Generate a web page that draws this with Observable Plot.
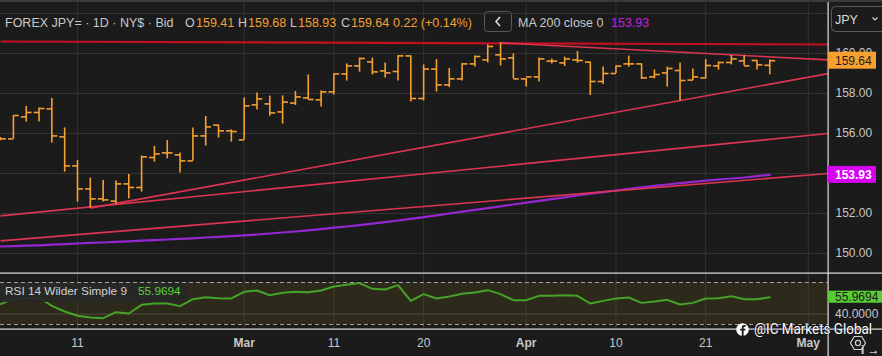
<!DOCTYPE html>
<html><head><meta charset="utf-8">
<script src="https://cdn.jsdelivr.net/npm/d3@7"></script>
<script src="https://cdn.jsdelivr.net/npm/@observablehq/plot@0.6"></script>
<style>
html,body{margin:0;padding:0;background:#1b1b1b;}
#wrap{position:relative;width:882px;height:356px;overflow:hidden;background:#1b1b1b;font-family:"Liberation Sans",Arial,sans-serif;}
#wrap svg{position:absolute;left:0;overflow:visible;}
[aria-label="ohlc"]{shape-rendering:crispEdges;}
</style></head><body><div id="wrap"></div><script>
// ---- data ----
const calendar = [
 "2026-02-03","2026-02-04","2026-02-05","2026-02-06","2026-02-09","2026-02-10","2026-02-11","2026-02-12","2026-02-13",
 "2026-02-16","2026-02-17","2026-02-18","2026-02-19","2026-02-20","2026-02-23","2026-02-24","2026-02-25","2026-02-26","2026-02-27",
 "2026-03-02","2026-03-03","2026-03-04","2026-03-05","2026-03-06","2026-03-09","2026-03-10","2026-03-11","2026-03-12","2026-03-13",
 "2026-03-16","2026-03-17","2026-03-18","2026-03-19","2026-03-20","2026-03-23","2026-03-24","2026-03-25","2026-03-26","2026-03-27",
 "2026-03-30","2026-03-31","2026-04-01","2026-04-02","2026-04-03","2026-04-06","2026-04-07","2026-04-08","2026-04-09","2026-04-10",
 "2026-04-13","2026-04-14","2026-04-15","2026-04-16","2026-04-17","2026-04-20","2026-04-21","2026-04-22","2026-04-23","2026-04-24",
 "2026-04-27","2026-04-28","2026-04-29","2026-04-30","2026-05-01"];
const open  = [155.70,155.73,156.83,157.05,157.23,155.83,154.38,153.23,152.73,152.62,153.48,153.30,154.80,155.03,154.93,154.63,155.88,156.42,156.13,155.68,157.43,157.48,157.08,157.52,157.78,157.68,158.08,158.98,159.38,159.58,159.13,159.10,159.88,157.75,159.22,158.43,158.73,159.48,159.68,159.93,159.78,158.73,158.83,159.62,159.53,159.68,159.57,158.60,159.00,159.48,159.48,158.83,159.03,159.15,158.67,158.78,159.38,159.55,159.63,159.65,159.41];
const high  = [155.80,156.90,157.35,157.27,157.75,156.28,154.65,153.77,153.65,153.63,153.95,154.87,155.35,155.65,155.03,156.28,156.85,156.42,156.18,157.78,158.02,157.87,157.88,158.10,158.93,158.13,158.98,159.48,159.77,159.77,159.53,159.90,159.88,159.43,159.70,159.25,159.50,159.87,160.43,160.53,159.98,158.73,159.78,159.73,159.82,160.10,159.57,159.33,159.37,159.87,159.48,159.18,159.32,159.53,159.23,159.70,159.57,159.90,159.90,159.65,159.68];
const low   = [155.65,155.73,156.57,156.57,155.52,154.07,152.57,152.27,152.57,152.48,152.73,153.07,154.57,154.73,154.02,154.62,155.37,155.77,155.57,155.68,157.17,156.87,156.47,157.40,157.68,157.32,157.93,158.62,159.07,158.93,158.78,158.62,157.57,157.63,158.07,158.30,158.63,159.33,159.53,159.37,158.73,158.32,158.57,159.47,159.35,159.52,157.90,158.45,159.00,159.32,158.70,158.73,158.32,157.63,158.65,158.73,159.17,159.43,159.38,159.17,158.93];
const close = [155.73,156.90,157.05,157.25,155.88,154.38,153.23,152.73,152.68,153.48,153.30,154.83,154.98,155.03,154.63,155.88,156.33,156.13,156.10,157.38,157.73,157.03,157.57,157.83,157.70,158.08,158.98,159.38,159.75,159.08,159.03,159.88,157.75,159.22,158.43,158.73,159.48,159.85,160.35,159.73,158.73,158.83,159.73,159.62,159.73,159.65,158.60,159.00,159.37,159.48,158.78,158.95,159.25,158.65,158.83,159.40,159.55,159.73,159.38,159.43,159.64];
const ma200 = [150.35,150.37,150.39,150.41,150.44,150.47,150.50,150.53,150.55,150.58,150.61,150.64,150.67,150.70,150.73,150.76,150.80,150.83,150.87,150.91,150.95,151.00,151.05,151.10,151.16,151.22,151.29,151.35,151.42,151.49,151.57,151.65,151.73,151.82,151.91,152.00,152.09,152.18,152.27,152.36,152.45,152.54,152.63,152.72,152.81,152.90,152.99,153.07,153.15,153.23,153.31,153.38,153.45,153.52,153.58,153.64,153.70,153.75,153.80,153.87,153.93];
const rsi14 = [49.4,54.4,55.1,55.7,47.8,42.4,38.3,36.7,36.0,41.7,40.5,48.7,50.0,50.0,47.5,54.1,56.0,55.1,54.8,61.1,62.4,57.9,60.2,61.1,60.8,62.4,66.2,67.8,69.4,64.0,63.3,67.5,52.5,58.9,54.8,56.7,59.2,60.5,62.7,58.9,53.2,53.2,57.3,57.3,57.9,57.3,50.0,52.5,54.8,55.7,50.6,51.9,53.5,49.0,50.6,54.8,55.1,57.0,54.1,54.1,55.9694];
// drawn trend lines: bar position (index in calendar) and price at each end
const trendStartBar   = [0, 39, 7, 0, 0];
const trendStartPrice = [160.60, 160.53, 152.27, 151.88, 150.63];
const trendEndBar     = [64.58, 64.58, 64.58, 64.58, 64.58];
const trendEndPrice   = [160.45, 159.68, 159.00, 156.00, 154.00];
const tickDates  = ["2026-02-11","2026-03-02","2026-03-11","2026-03-20","2026-04-01","2026-04-10","2026-04-21","2026-05-01"];
const tickLabels = ["11","Mar","11","20","Apr","10","21","May"];
const priceTicks = [150,152,154,156,158,160,162];
const rsiLevels = [30,70];
const rsiGrid = [40];
const maLast = 153.93;

// ---- build ----
const FONT = '"Liberation Sans",Arial,sans-serif';
const bars = open.map((o,i)=>({i, o, h:high[i], l:low[i], c:close[i]}));
const maData = ma200.map((v,i)=>({i,v}));
const rsiData = rsi14.map((v,i)=>({i,v}));
const trends = trendStartBar.map((b,k)=>({k, x1:b, y1:trendStartPrice[k], x2:trendEndBar[k], y2:trendEndPrice[k]}));
const tickPos = tickDates.map(d=>calendar.indexOf(d));
const labelOf = new Map(tickPos.map((p,k)=>[p,tickLabels[k]]));
const isMonth = l => /^[A-Za-z]/.test(l);
const dayTicks = tickPos.filter((p,k)=>!isMonth(tickLabels[k]));
const monthTicks = tickPos.filter((p,k)=>isMonth(tickLabels[k]));
const xDomain = [-0.006, 64.58];
const ORANGE = "#f5a031";
const wrap = document.getElementById("wrap");

const main = Plot.plot({
  width: 882, height: 272, marginLeft: 0, marginRight: 54, marginTop: 0, marginBottom: 0,
  x: {domain: xDomain, axis: null},
  y: {domain: [149.05, 162.65], axis: null},
  style: {background: "transparent", fontFamily: FONT, fontSize: "12px", color: "#c8c8c8"},
  marks: [
    Plot.ruleX(tickPos, {stroke: "#323232", strokeWidth: 1}),
    Plot.ruleY(priceTicks, {stroke: "#323232", strokeWidth: 1}),
    Plot.axisY(priceTicks.filter(v=>v<=160), {anchor: "right", tickSize: 0, tickPadding: 7, tickFormat: d=>d.toFixed(2), fill: "#c8c8c8", fontSize: 12}),
    Plot.line(maData, {x: "i", y: "v", stroke: "#9427d2", strokeWidth: 2.2, clip: true}),
    Plot.link(trends, {x1: "x1", y1: "y1", x2: "x2", y2: "y2", stroke: d=>d.k===0?"#c3101f":"#dc3451", strokeWidth: d=>d.k===0?2.2:1.6, clip: true}),
    Plot.ruleX(bars, {x: "i", y1: "l", y2: "h", stroke: ORANGE, strokeWidth: 1.6, clip: true, ariaLabel: "ohlc"}),
    Plot.link(bars, {x1: d=>d.i-0.42, x2: "i", y1: "o", y2: "o", stroke: ORANGE, strokeWidth: 1.6, clip: true, ariaLabel: "ohlc"}),
    Plot.link(bars, {x1: "i", x2: d=>d.i+0.42, y1: "c", y2: "c", stroke: ORANGE, strokeWidth: 1.6, clip: true, ariaLabel: "ohlc"})
  ]
});
main.style.top = "0px";
wrap.appendChild(main);

const rsiPlot = Plot.plot({
  width: 882, height: 84, marginLeft: 0, marginRight: 54, marginTop: 10, marginBottom: 32,
  x: {domain: xDomain, axis: null},
  y: {domain: [30, 70], axis: null},
  style: {background: "transparent", fontFamily: FONT, fontSize: "12px", color: "#c8c8c8"},
  marks: [
    Plot.rectY([0], {y1: rsiLevels[0], y2: rsiLevels[1], fill: "#2e2a1b"}),
    Plot.ruleX(tickPos, {y1: 25.3, y2: 78.5, stroke: "#403c2e", strokeWidth: 1}),
    Plot.ruleY(rsiGrid, {stroke: "#4e4938", strokeWidth: 1}),
    Plot.ruleY(rsiLevels, {stroke: "#a0a0a0", strokeWidth: 1, strokeDasharray: "4,3"}),
    Plot.line(rsiData, {x: "i", y: "v", stroke: "#44a328", strokeWidth: 2}),
    Plot.axisX(dayTicks, {anchor: "bottom", tickSize: 0, tickPadding: 14, tickFormat: p=>labelOf.get(p), fill: "#c8c8c8", fontSize: 12}),
    Plot.axisX(monthTicks, {anchor: "bottom", tickSize: 0, tickPadding: 14, tickFormat: p=>labelOf.get(p), fill: "#c8c8c8", fontSize: 12, fontWeight: "bold"})
  ]
});
rsiPlot.style.top = "272px";
wrap.appendChild(rsiPlot);

// ---- overlay chrome ----
const yMain = main.scale("y");
const yRsi = rsiPlot.scale("y");
const last = bars.length - 1;
const ov = d3.select(wrap).append("svg").attr("width", 882).attr("height", 356)
  .style("top", "0px").style("font-family", FONT);
ov.append("rect").attr("x",0).attr("y",0).attr("width",882).attr("height",2).attr("fill","#3a3a3a");
// separators
ov.append("rect").attr("x",0).attr("y",272.5).attr("width",882).attr("height",1.2).attr("fill","#dedede");
ov.append("rect").attr("x",0).attr("y",328.5).attr("width",882).attr("height",1.2).attr("fill","#dedede");
ov.append("rect").attr("x",827.5).attr("y",2).attr("width",1.2).attr("height",354).attr("fill","#dedede");

// header
const hdr = ov.append("g").attr("font-size", 12.5);
const put = (x, t, c) => hdr.append("text").attr("x", x).attr("y", 27).attr("fill", c).text(t);
const GRAY = "#c8c8c8";
put(5, "FOREX JPY= · 1D · NY$ · Bid", GRAY);
put(185, "O", GRAY); put(196, open[last].toFixed(2), ORANGE);
put(238, "H", GRAY); put(248, high[last].toFixed(2), ORANGE);
put(290, "L", GRAY); put(298, low[last].toFixed(2), ORANGE);
put(341, "C", GRAY); put(351, close[last].toFixed(2), ORANGE);
const chg = close[last] - close[last-1] ;
put(393, "0.22 (+0.14%)", ORANGE);
ov.append("rect").attr("x",484.5).attr("y",11.5).attr("width",27).attr("height",20).attr("rx",3)
  .attr("fill","none").attr("stroke","#585858");
ov.append("path").attr("d","M500,17 L496,21.5 L500,26").attr("fill","none").attr("stroke","#e0e0e0").attr("stroke-width",1.6);
put(518, "MA 200 close 0", GRAY);
put(611, maLast.toFixed(2), "#c41ee0");
// JPY selector
ov.append("rect").attr("x",831.5).attr("y",6.5).attr("width",56).attr("height",25).attr("rx",4)
  .attr("fill","#1b1b1b").attr("stroke","#5a5a5a");
ov.append("text").attr("x",835).attr("y",23.5).attr("font-size",12.5).attr("fill","#dcdcdc").text("JPY");
ov.append("path").attr("d","M872.5,17.5 L875,20 L877.5,17.5").attr("fill","none").attr("stroke","#cfcfcf").attr("stroke-width",1.2);

// price labels on the right axis
function tag(y, txt, bg, fg, h, w, weight){
  ov.append("rect").attr("x",828).attr("y",y-h/2).attr("width",w).attr("height",h).attr("fill",bg);
  ov.append("text").attr("x",835).attr("y",y+4.4).attr("font-size",12).attr("fill",fg)
    .attr("font-weight",weight||"normal").text(txt);
}
tag(yMain.apply(close[last]), close[last].toFixed(2), ORANGE, "#1b1b1b", 17, 48);
tag(yMain.apply(maLast), maLast.toFixed(2), "#d600f2", "#ffffff", 17, 48, "bold");
tag(272 + yRsi.apply(rsi14[last]), rsi14[last].toFixed(4), "#58cc36", "#1b1b1b", 12, 54);
ov.append("text").attr("x",835).attr("y",272 + yRsi.apply(rsiGrid[0]) + 4.4).attr("font-size",12).attr("fill",GRAY).text(rsiGrid[0].toFixed(4));

// RSI legend
ov.append("rect").attr("x",0).attr("y",283).attr("width",187).attr("height",19).attr("fill","#272727").attr("fill-opacity",0.92);
ov.append("text").attr("x",5).attr("y",294.5).attr("font-size",11.8).attr("fill","#d2d2d2").text("RSI 14 Wilder Simple 9");
ov.append("text").attr("x",138).attr("y",294.5).attr("font-size",11.8).attr("fill","#5ad23a").text(rsi14[last].toFixed(4));

// watermark
ov.append("circle").attr("cx",742.5).attr("cy",329.5).attr("r",6.3).attr("fill","#ffffff");
ov.append("path").attr("d","M743.6,336 L743.6,330.6 L745.3,330.6 L745.6,328.8 L743.6,328.8 L743.6,327.7 C743.6,327.1 743.9,326.8 744.5,326.8 L745.7,326.8 L745.7,325.2 C745.2,325.1 744.7,325.1 744.1,325.1 C742.7,325.1 741.8,325.9 741.8,327.5 L741.8,328.8 L740.2,328.8 L740.2,330.6 L741.8,330.6 L741.8,336 Z").attr("fill","#1b1b1b");
ov.append("text").attr("x",754).attr("y",334.3).attr("font-size",14).attr("font-family","Roboto,"+FONT)
  .attr("fill","#ffffff").attr("stroke","#111").attr("stroke-width",0.8).attr("paint-order","stroke")
  .attr("textLength",118).attr("lengthAdjust","spacingAndGlyphs").text("@IC Markets Global");

// settings hexagon
const hx = 858, hy = 343, hr = 7.5;
const hex = d3.range(6).map(k=>{const a=Math.PI/3*k; return [hx+hr*Math.cos(a), hy+hr*Math.sin(a)];});
ov.append("path").attr("d","M"+hex.map(p=>p.join(",")).join("L")+"Z").attr("fill","none").attr("stroke","#cfcfcf").attr("stroke-width",1.2);
ov.append("circle").attr("cx",hx).attr("cy",hy).attr("r",2.6).attr("fill","none").attr("stroke","#cfcfcf").attr("stroke-width",1.2);
</script></body></html>
